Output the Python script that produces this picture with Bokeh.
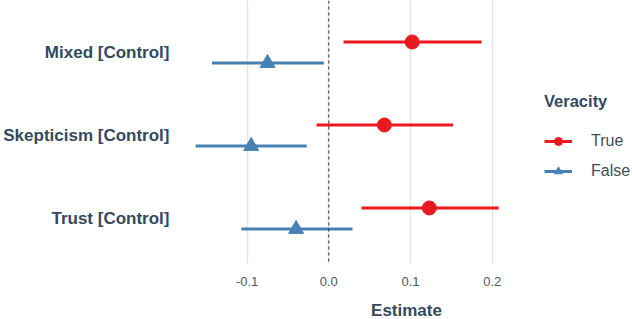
from bokeh.plotting import figure
from bokeh.models import (Range1d, FixedTicker, Legend, LegendItem, Span, ColumnDataSource)
from bokeh.embed import file_html
from bokeh.resources import INLINE

# Data
terms = ["Mixed [Control]", "Skepticism [Control]", "Trust [Control]"]
term_pos = [3, 2, 1]
true_est = [0.102, 0.068, 0.123]
true_lo = [0.018, -0.015, 0.040]
true_hi = [0.187, 0.152, 0.208]
false_est = [-0.075, -0.095, -0.040]
false_lo = [-0.143, -0.163, -0.107]
false_hi = [-0.006, -0.027, 0.029]
x_ticks = [-0.1, 0.0, 0.1, 0.2]
x_tick_labels = ["-0.1", "0.0", "0.1", "0.2"]
dodge = 0.127

RED = "#E8191F"
BLUE = "#4682B4"
TXT = "#34495E"
FONT = "Liberation Sans"

p = figure(frame_width=452, frame_height=263, output_backend="svg", toolbar_location=None,
           x_range=Range1d(-0.1815, 0.3717), y_range=Range1d(0.458, 3.627),
           min_border_left=176, min_border_right=0, min_border_top=0,
           min_border_bottom=56)
p.outline_line_color = None
p.background_fill_color = "white"

# grids
p.ygrid.visible = False
p.xgrid.ticker = FixedTicker(ticks=x_ticks)
p.xgrid.grid_line_color = "#E5E5E5"
p.xgrid.grid_line_width = 1.5

span = Span(location=0, dimension="height", line_color="#333333", line_width=1, line_dash="3 3")
p.add_layout(span)

ts = ColumnDataSource(dict(y=[v + dodge for v in term_pos], est=true_est, lo=true_lo, hi=true_hi))
fs = ColumnDataSource(dict(y=[v - dodge for v in term_pos], est=false_est, lo=false_lo, hi=false_hi))

t_seg = p.segment(x0="lo", x1="hi", y0="y", y1="y", source=ts, line_color=RED, line_width=3)
t_pt = p.scatter(x="est", y="y", source=ts, marker="circle", size=14, fill_color=RED, line_color=RED)
f_seg = p.segment(x0="lo", x1="hi", y0="y", y1="y", source=fs, line_color=BLUE, line_width=3)
f_pt = p.scatter(x="est", y="y", source=fs, marker="triangle", size=15, fill_color=BLUE, line_color=BLUE)

# axes
xa = p.xaxis[0]
xa.ticker = FixedTicker(ticks=x_ticks)
xa.major_label_overrides = {t: l for t, l in zip(x_ticks, x_tick_labels)}
xa.axis_line_color = None
xa.major_tick_line_color = None
xa.minor_tick_line_color = None
xa.major_tick_out = 0
xa.major_tick_in = 0
xa.minor_tick_out = 0
xa.major_label_text_font = FONT
xa.major_label_text_font_size = "13px"
xa.major_label_text_color = "#4A5868"
xa.major_label_standoff = 13
xa.axis_label = "Estimate"
xa.axis_label_text_font = FONT
xa.axis_label_text_font_size = "17px"
xa.axis_label_text_font_style = "bold"
xa.axis_label_text_color = TXT
xa.axis_label_standoff = 12

ya = p.yaxis[0]
ya.ticker = FixedTicker(ticks=term_pos)
ya.major_label_overrides = {v: t for v, t in zip(term_pos, terms)}
ya.axis_line_color = None
ya.major_tick_line_color = None
ya.minor_tick_line_color = None
ya.major_tick_out = 0
ya.major_tick_in = 0
ya.minor_tick_out = 0
ya.major_label_text_font = FONT
ya.major_label_text_font_size = "17px"
ya.major_label_text_font_style = "bold"
ya.major_label_text_color = TXT
ya.major_label_standoff = 11

legend = Legend(items=[LegendItem(label="True", renderers=[t_seg, t_pt]),
                       LegendItem(label="False", renderers=[f_seg, f_pt])],
                title="Veracity", location=(364, 82))
legend.title_text_font = FONT
legend.title_text_font_size = "16.5px"
legend.title_text_font_style = "bold"
legend.title_text_color = TXT
legend.title_standoff = 20
legend.label_text_font = FONT
legend.label_text_font_size = "16px"
legend.label_text_color = "#3F4C5C"
legend.label_standoff = 19
legend.glyph_width = 28
legend.glyph_height = 20
legend.spacing = 10
legend.padding = 6
legend.margin = 0
legend.border_line_color = None
legend.background_fill_alpha = 0
p.add_layout(legend, "center")

open("out.html", "w").write(file_html(p, INLINE))
